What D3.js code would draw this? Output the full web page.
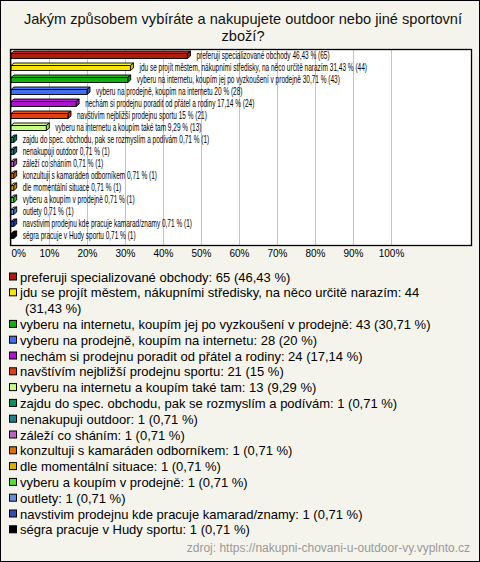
<!DOCTYPE html>
<html><head><meta charset="utf-8">
<script src="https://cdn.jsdelivr.net/npm/d3@7"></script>
<style>
html,body{margin:0;padding:0;background:#fff;}
svg{display:block;}
</style></head>
<body>
<script>
const titleLines = ["Jakým způsobem vybíráte a nakupujete outdoor nebo jiné sportovní", "zboží?"];
const categories = [
  "preferuji specializované obchody",
  "jdu se projít městem, nákupními středisky, na něco určitě narazím",
  "vyberu na internetu, koupím jej po vyzkoušení v prodejně",
  "vyberu na prodejně, koupím na internetu",
  "nechám si prodejnu poradit od přátel a rodiny",
  "navštívím nejbližší prodejnu sportu",
  "vyberu na internetu a koupím také tam",
  "zajdu do spec. obchodu, pak se rozmyslím a podívám",
  "nenakupuji outdoor",
  "záleží co sháním",
  "konzultuji s kamaráden odborníkem",
  "dle momentální situace",
  "vyberu a koupím v prodejně",
  "outlety",
  "navstivim prodejnu kde pracuje kamarad/znamy",
  "ségra pracuje v Hudy sportu"
];
const counts = [65, 44, 43, 28, 24, 21, 13, 1, 1, 1, 1, 1, 1, 1, 1, 1];
const percents = [46.43, 31.43, 30.71, 20, 17.14, 15, 9.29, 0.71, 0.71, 0.71, 0.71, 0.71, 0.71, 0.71, 0.71, 0.71];
const colors = ["#b01c0c", "#f8e400", "#10b010", "#4070e8", "#b010d0", "#e04010", "#c8ff80", "#109060",
                "#208090", "#c060c0", "#e07000", "#e0b000", "#50e030", "#6090e0", "#3050b8", "#000000"];
const tickValues = [0, 10, 20, 30, 40, 50, 60, 70, 80, 90, 100];
const sourceText = "zdroj: https://nakupni-chovani-u-outdoor-vy.vyplnto.cz";

const W = 480, H = 562;
const fmt = p => String(Math.round(p * 100) / 100).replace('.', ',');
const data = categories.map((c, i) => ({c, n: counts[i], p: percents[i], col: colors[i]}));

const svg = d3.select("body").append("svg").attr("width", W).attr("height", H);
svg.append("rect").attr("x", 0.5).attr("y", 0.5).attr("width", W - 1).attr("height", H - 1)
  .attr("fill", "#f4f4ec").attr("stroke", "#000");

// title
svg.append("g").selectAll("text").data(titleLines).join("text")
  .attr("x", 243).attr("y", (d, i) => 24 + i * 16.5)
  .attr("text-anchor", "middle")
  .attr("font-family", "'Liberation Sans', Arial, sans-serif").attr("font-size", 14.6)
  .attr("fill", "#111").text(d => d);

// plot frame
const pl = 10.5, pr = 471.5, pt = 49.5, pb = 245.5;
svg.append("rect").attr("x", pl).attr("y", pt).attr("width", pr - pl).attr("height", pb - pt)
  .attr("fill", "#fff");

const x = d3.scaleLinear().domain([0, 100]).range([11, 391]);
const y = d3.scaleBand().domain(categories).range([49, 241]).padding(0);

// grid
svg.append("g").selectAll("line").data(tickValues).join("line")
  .attr("x1", d => Math.round(x(d)) + 0.5).attr("x2", d => Math.round(x(d)) + 0.5)
  .attr("y1", pt).attr("y2", pb).attr("stroke", "#c4c4c4").attr("stroke-width", 1);

// tick labels via axis
const axis = d3.axisBottom(x).tickValues(tickValues).tickSize(0).tickPadding(0).tickFormat(d => d + "%");
const ax = svg.append("g").attr("transform", `translate(0,250)`).call(axis);
ax.select(".domain").remove();
ax.selectAll("text").attr("font-family", "'Liberation Sans', Arial, sans-serif").attr("font-size", 10)
  .attr("fill", "#000").attr("dy", "0.71em")
  .attr("text-anchor", d => d === 0 ? "start" : "middle");

// bars (3D)
const dx = 3, dy = 2.5, bh = 5;
const bars = svg.append("g");
data.forEach(d => {
  const cy = y(d.c) + y.bandwidth() / 2;
  const x0 = x(0), x1 = x(d.p);
  const top = cy - bh / 2 + 1, bot = cy + bh / 2 + 1;
  const c = d3.color(d.col);
  const g = bars.append("g").attr("stroke", "#000").attr("stroke-width", 0.9).attr("stroke-linejoin", "round");
  g.append("path").attr("d", `M${x0},${top} L${x0 + dx},${top - dy} L${x1 + dx},${top - dy} L${x1},${top} Z`)
    .attr("fill", c.brighter(0.3));
  g.append("path").attr("d", `M${x1},${top} L${x1 + dx},${top - dy} L${x1 + dx},${bot - dy} L${x1},${bot} Z`)
    .attr("fill", c.darker(0.5));
  g.append("rect").attr("x", x0).attr("y", top).attr("width", x1 - x0).attr("height", bot - top)
    .attr("fill", d.col);
});

// bar labels (condensed)
svg.append("g").selectAll("text").data(data).join("text")
  .attr("transform", d => `translate(${x(d.p) + dx + 6},${y(d.c) + y.bandwidth() / 2 + 3.5}) scale(0.65,1)`)
  .attr("font-family", "'Liberation Sans', Arial, sans-serif").attr("font-size", 10)
  .attr("fill", "#000")
  .text(d => `${d.c} ${fmt(d.p)} % (${d.n})`);

// frame border on top
svg.append("rect").attr("x", pl).attr("y", pt).attr("width", pr - pl).attr("height", pb - pt)
  .attr("fill", "none").attr("stroke", "#000").attr("stroke-width", 1.3);

// legend
const lg = svg.append("g");
const lineH = 15.8;
let ly = 281.5;
const maxW = 420;
data.forEach(d => {
  const full = `${d.c}: ${d.n} (${fmt(d.p)}\u00a0%)`;
  const t = lg.append("text").attr("x", 20).attr("y", ly)
    .attr("font-family", "'Liberation Sans', Arial, sans-serif").attr("font-size", 13).attr("fill", "#000");
  lg.append("rect").attr("x", 9.5).attr("y", ly - 8.5).attr("width", 7).attr("height", 7)
    .attr("fill", d.col).attr("stroke", "#000").attr("stroke-width", 1);
  const words = full.split(" ");
  let line = [];
  let ts = t.append("tspan").attr("x", 20).attr("y", ly);
  for (const w of words) {
    line.push(w);
    ts.text(line.join(" "));
    if (ts.node().getComputedTextLength() > maxW && line.length > 1) {
      line.pop();
      ts.text(line.join(" "));
      line = [w];
      ly += lineH;
      ts = t.append("tspan").attr("x", 25).attr("y", ly).text(w);
    }
  }
  ly += lineH;
});

svg.append("text").attr("x", 470).attr("y", 552).attr("text-anchor", "end")
  .attr("font-family", "'Liberation Sans', Arial, sans-serif").attr("font-size", 12)
  .attr("fill", "#999").text(sourceText);
</script>
</body></html>
